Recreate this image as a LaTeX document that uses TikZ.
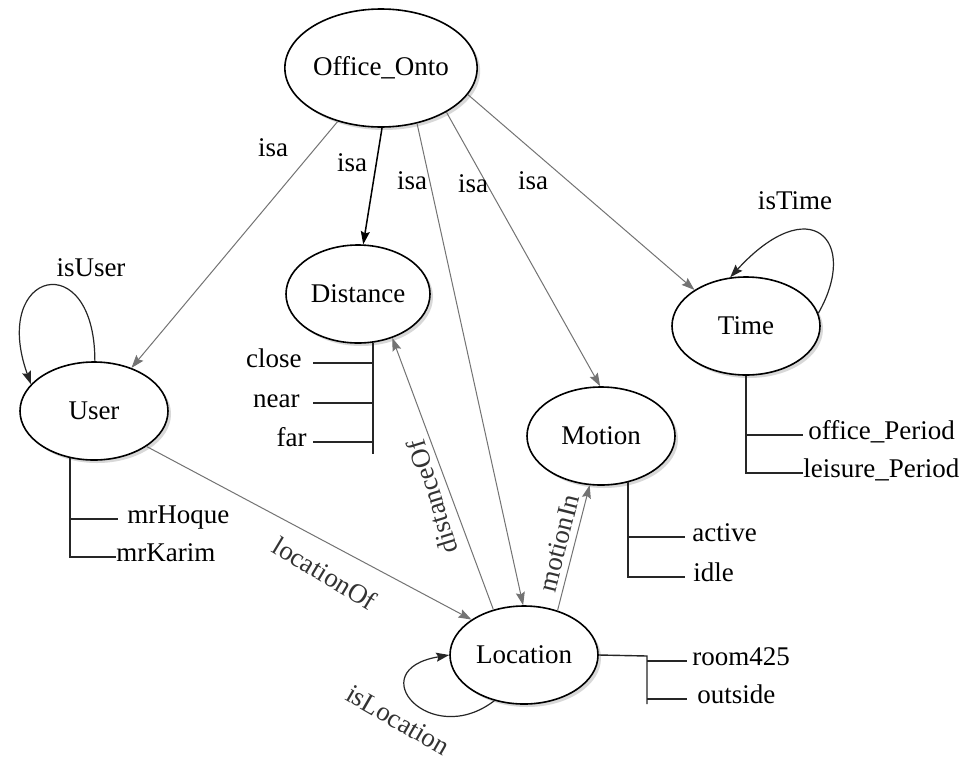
\documentclass[tikz,border=0pt]{standalone}
\usepackage{fontspec}
\setmainfont{Liberation Serif}
\usetikzlibrary{arrows.meta,shadows,shapes.geometric}
\begin{document}
\begin{tikzpicture}[x=0.5pt,y=-0.5pt,
  font=\fontsize{13.5}{16}\selectfont,
  cls/.style={ellipse,draw=black,line width=0.8pt,fill=white,inner sep=0pt,
    drop shadow={shadow xshift=1.5pt,shadow yshift=-1.5pt,fill=black!25,opacity=0.6}},
  lbl/.style={inner sep=0pt},
  elbl/.style={inner sep=0pt,text=black!80},
  isaedge/.style={draw=black!55,line width=0.5pt,-{Stealth[length=6.5pt,width=4.5pt,inset=1pt]}},
  darkedge/.style={draw=black,line width=0.75pt,-{Stealth[length=6.5pt,width=4.5pt,inset=1pt]}},
  loopedge/.style={draw=black!85,line width=0.6pt,-{Stealth[length=6.5pt,width=4.5pt,inset=1pt]}},
  prop/.style={draw=black!85,line width=0.7pt}
]
\useasboundingbox (0,0) rectangle (962,760);
\fill[white] (0,0) rectangle (962,760);

% class nodes
\node[cls,minimum width=88pt,minimum height=59pt] (oo) at (381,68) {Office\_Onto};
\node[cls,minimum width=72pt,minimum height=49pt] (dist) at (358,294) {Distance};
\node[cls,minimum width=74pt,minimum height=49pt] (user) at (94,411) {User};
\node[cls,minimum width=74pt,minimum height=49pt] (loc) at (524,655) {Location};
\node[cls,minimum width=74pt,minimum height=49pt] (mot) at (601,436) {Motion};
\node[cls,minimum width=74pt,minimum height=49pt] (time) at (746,326) {Time};

% isa edges
\draw[isaedge] (oo.231) -- (user.49);
\draw[darkedge] (oo.-89) -- (dist.84);
\draw[isaedge] (oo.-57) -- (loc.91);
\draw[isaedge] (oo.-34) -- (mot.91);
\draw[isaedge] (oo.-17) -- (time.145);
\node[lbl] (isa1) at (273,148) {isa};
\node[lbl] (isa2) at (352,163) {isa};
\node[lbl] (isa3) at (412,181) {isa};
\node[lbl] (isa4) at (473,184) {isa};
\node[lbl] (isa5) at (533,181) {isa};

% other relations
\draw[isaedge] (user.-34) -- (loc.146);
\draw[isaedge] (loc.124) -- (dist.-52);
\draw[isaedge] (loc.53) -- (mot.-103);
\node[elbl,rotate=-31] (locof) at (325,573) {locationOf};
\node[elbl,rotate=107] (distof) at (432,497) {distanceOf};
\node[elbl,rotate=76] (motin) at (559,543) {motionIn};

% self loops
\draw[loopedge] (user.89) .. controls (95,245) and (-10,270) .. (user.157);
\node[lbl] (isuser) at (91,268) {isUser};
\draw[loopedge] (time.10) .. controls (860,240) and (810,190) .. (time.108);
\node[lbl] (istime) at (795,201) {isTime};
\draw[loopedge] (loc.237) .. controls (430,750) and (360,670) .. (loc.180);
\node[elbl,rotate=-30] (isloc) at (398,720) {isLocation};

% Distance individuals
\node[lbl,anchor=mid east] (close) at (302,363) {close};
\node[lbl,anchor=mid east] (near) at (300,403) {near};
\node[lbl,anchor=mid east] (far) at (307,442) {far};
\coordinate (dbot) at (373,454);
\draw[prop] (dist.-73) -- (dist.-73 |- dbot);
\coordinate (dc) at (313,363);
\coordinate (dn) at (313,403);
\coordinate (df) at (313,442);
\draw[prop] (dc) -- (dc -| dist.-73);
\draw[prop] (dn) -- (dn -| dist.-73);
\draw[prop] (df) -- (df -| dist.-73);

% User individuals
\node[lbl,anchor=mid west] (hoque) at (127,519) {mrHoque};
\node[lbl,anchor=mid west] (karim) at (116,557) {mrKarim};
\draw[prop] (user.-117) |- (karim.mid west);
\draw[prop] (user.-117 |- hoque.mid west) -- ([xshift=-4.5pt]hoque.mid west);

% Motion individuals
\node[lbl,anchor=mid west] (active) at (692,537) {active};
\node[lbl,anchor=mid west] (idle) at (693,577) {idle};
\draw[prop] (mot.-60) |- ([xshift=-4pt]idle.mid west);
\draw[prop] (mot.-60 |- active.mid west) -- ([xshift=-3.5pt]active.mid west);

% Time individuals
\node[lbl,anchor=mid west] (office) at (808,435) {office\_Period};
\node[lbl,anchor=mid west] (leisure) at (803,473) {leisure\_Period};
\draw[prop] (time.south) |- (leisure.mid west);
\draw[prop] (time.south |- office.mid west) -- ([xshift=-2.5pt]office.mid west);

% Location individuals
\node[lbl,anchor=mid west] (room) at (692,661) {room425};
\node[lbl,anchor=mid west] (outside) at (697,699) {outside};
\coordinate (lb1) at (647,656);
\coordinate (lb2) at (647,704);
\draw[prop] (loc.east) -- (lb1) -- (lb2);
\draw[prop] (lb1 |- room.mid west) -- ([xshift=-2.5pt]room.mid west);
\draw[prop] (lb1 |- outside.mid west) -- ([xshift=-5pt]outside.mid west);
\end{tikzpicture}
\end{document}
